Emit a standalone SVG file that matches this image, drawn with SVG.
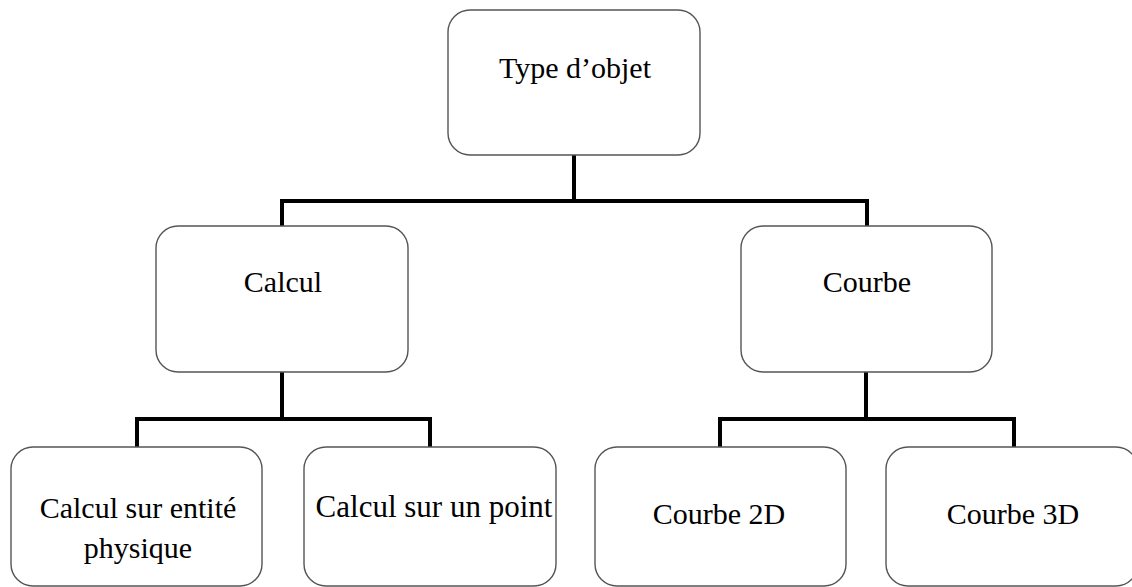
<svg xmlns="http://www.w3.org/2000/svg" width="1132" height="587" viewBox="0 0 1132 587">
<style>
.box{fill:#fff;stroke:#555;stroke-width:1.4}
.lbl{font-family:"Liberation Serif","Times New Roman",serif;font-size:30px;fill:#000;text-anchor:middle}
.con{fill:none;stroke:#000;stroke-width:4;stroke-linecap:square;stroke-linejoin:miter}
</style>
<rect width="1132" height="587" fill="#fff"/>
<g id="connectors">
<path class="con" d="M574,156 V201 M282,201 H867 M282,201 V225 M867,201 V225"/>
<path class="con" d="M282,373 V419 M137,419 H430 M137,419 V446 M430,419 V446"/>
<path class="con" d="M866,373 V419 M720,419 H1014 M720,419 V446 M1014,419 V446"/>
</g>
<g id="n-type">
<rect class="box" x="448" y="10" width="252" height="145" rx="22"/>
<text class="lbl" x="575" y="78">Type d’objet</text>
</g>
<g id="n-calcul">
<rect class="box" x="156" y="226" width="252" height="146" rx="22"/>
<text class="lbl" x="283" y="292">Calcul</text>
</g>
<g id="n-courbe">
<rect class="box" x="741" y="226" width="251" height="146" rx="22"/>
<text class="lbl" x="867" y="292">Courbe</text>
</g>
<g id="n-entite">
<rect class="box" x="11" y="447" width="251" height="139" rx="22"/>
<text class="lbl" x="138" y="518">Calcul sur entité</text>
<text class="lbl" x="138" y="558">physique</text>
</g>
<g id="n-point">
<rect class="box" x="304" y="447" width="252" height="139" rx="22"/>
<text class="lbl" x="434" y="517" style="font-size:31px">Calcul sur un point</text>
</g>
<g id="n-2d">
<rect class="box" x="595" y="447" width="251" height="139" rx="22"/>
<text class="lbl" x="719" y="524">Courbe 2D</text>
</g>
<g id="n-3d">
<rect class="box" x="886" y="447" width="252" height="139" rx="22"/>
<text class="lbl" x="1013" y="524">Courbe 3D</text>
</g>
</svg>
